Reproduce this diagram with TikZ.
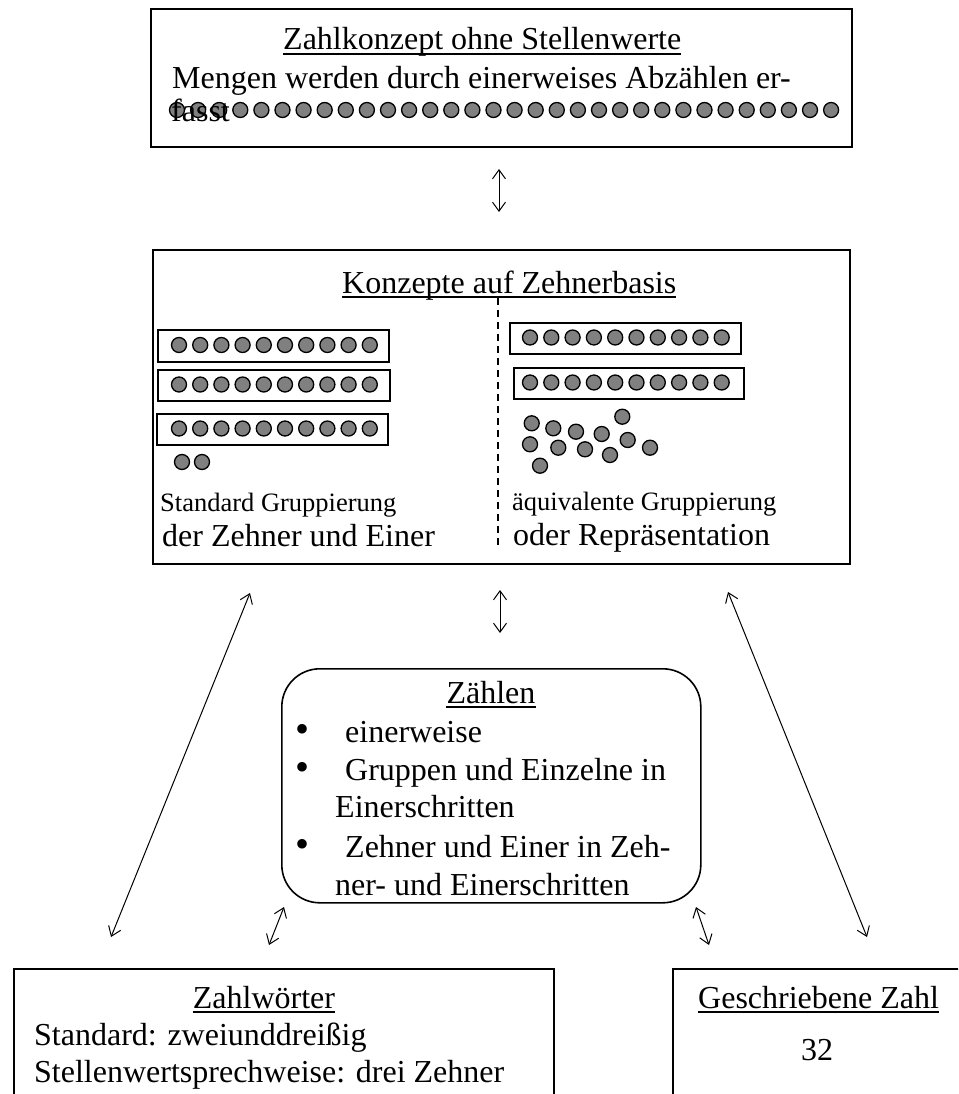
\documentclass[tikz,border=0pt]{standalone}
\usepackage{fontspec}
\setmainfont{Liberation Serif}
\usetikzlibrary{arrows.meta}
\definecolor{beadgray}{RGB}{128,128,128}
\begin{document}
\begin{tikzpicture}[x=1pt,y=-1pt,
  txt/.style={anchor=base west, inner sep=0pt, font=\fontsize{32}{38}\selectfont},
  ctxt/.style={anchor=base, inner sep=0pt, font=\fontsize{32}{38}\selectfont},
  smalltxt/.style={anchor=base west, inner sep=0pt, font=\fontsize{26.5}{30}\selectfont},
  bullet/.style={anchor=center, inner sep=0pt, font=\fontsize{40}{40}\selectfont},
  box/.style={draw, line width=1.6pt, anchor=north west, inner sep=0pt},
  roundbox/.style={box, rounded corners=38pt},
  bead/.style={circle, draw, fill=beadgray, line width=1.3pt, minimum size=15pt, inner sep=0pt},
  tenbox/.style={draw, line width=1.5pt, fill=white, anchor=north west, inner sep=0pt},
  link/.style={line width=1pt, {Straight Barb[length=9pt,width=13pt]}-{Straight Barb[length=9pt,width=13pt]}},
  uline/.style={line width=1.5pt},
  divider/.style={line width=1.2pt, dash pattern=on 7pt off 5pt}]
\clip (0,0) rectangle (958,1094);
\fill[white] (0,0) rectangle (958,1094);

% ---------- top box ----------
\node[box, minimum width=701pt, minimum height=138pt] (topbox) at (150,8) {};
\node[txt] (toptitle) at (283,50) {Zahlkonzept ohne Stellenwerte};
\draw[uline] ([yshift=-4pt]toptitle.base west) -- ([yshift=-4pt]toptitle.base east);
\node[txt] (topline) at (172,89) {Mengen werden durch einerweises Abzählen er-};
\foreach \i in {0,...,31} \node[bead] (tb\i) at ({177+21.1*\i},110) {};
\node[txt] (fasst) at (171,122) {fasst};

% ---------- middle box ----------
\node[box, minimum width=697pt, minimum height=314pt] (midbox) at (152,249) {};
\node[txt] (midtitle) at (342,293) {Konzepte auf Zehnerbasis};
\draw[uline] ([yshift=-4pt]midtitle.base west) -- ([yshift=-4pt]midtitle.base east);
\coordinate (divtop) at (498,298);
\coordinate (divbot) at (498,548);
\draw[divider] (divtop) -- (divbot);

% left: standard grouping
\node[tenbox, minimum width=231pt, minimum height=32pt] (L1) at (157,329) {};
\node[tenbox, minimum width=232pt, minimum height=31pt] (L2) at (157,369) {};
\node[tenbox, minimum width=231pt, minimum height=31pt] (L3) at (156,413) {};
\foreach \i in {0,...,9} {
  \node[bead] (la\i) at ({179+21.2*\i},345) {};
  \node[bead] (lb\i) at ({179+21.2*\i},384.5) {};
  \node[bead] (lc\i) at ({179+21.2*\i},428.5) {};
}
\node[bead] (ld0) at (182,462) {};
\node[bead] (ld1) at (202,462) {};
\node[smalltxt] (stdA) at (160,511) {Standard Gruppierung};
\node[txt] (stdB) at (162,546) {der Zehner und Einer};

% right: equivalent grouping
\node[tenbox, minimum width=231pt, minimum height=31pt] (R1) at (509,322) {};
\node[tenbox, minimum width=230pt, minimum height=31pt] (R2) at (513,367) {};
\foreach \i in {0,...,9} {
  \node[bead] (ra\i) at ({530+21.3*\i},337.5) {};
  \node[bead] (rb\i) at ({530+21.3*\i},382.5) {};
}
\foreach \x/\y [count=\k] in {531.7/423.3, 553.3/428.3, 576/431.7, 601.7/434, 622.3/416.7,
  530/444.3, 558.3/447.7, 585/449.3, 610/455, 627.7/440, 650/447.7, 540/465.7}
  \node[bead] (rs\k) at (\x,\y) {};
\node[smalltxt] (eqA) at (512,510) {äquivalente Gruppierung};
\node[txt] (eqB) at (513,545) {oder Repräsentation};

% ---------- counting box ----------
\node[roundbox, minimum width=419pt, minimum height=234pt] (countbox) at (281,668) {};
\node[ctxt] (counttitle) at (491,703) {Zählen};
\draw[uline] ([yshift=-4pt]counttitle.base west) -- ([yshift=-4pt]counttitle.base east);
\node[bullet] (b1) at (302,733) {•};
\node[bullet] (b2) at (302,771) {•};
\node[bullet] (b3) at (302,848) {•};
\node[txt] (c1) at (345,742) {einerweise};
\node[txt] (c2) at (345,780) {Gruppen und Einzelne in};
\node[txt] (c2b) at (335,817) {Einerschritten};
\node[txt] (c3) at (345,857) {Zehner und Einer in Zeh-};
\node[txt] (c3b) at (335,895) {ner- und Einerschritten};

% ---------- bottom boxes ----------
\node[box, minimum width=540pt, minimum height=150pt] (wordbox) at (13,968) {};
\node[ctxt] (wordtitle) at (264,1008) {Zahlwörter};
\draw[uline] ([yshift=-4pt]wordtitle.base west) -- ([yshift=-4pt]wordtitle.base east);
\node[txt] (w1) at (34,1045) {Standard: zweiunddreißig};
\node[txt] (w2) at (34,1082) {Stellenwertsprechweise: drei Zehner};

\node[box, minimum width=310pt, minimum height=150pt] (numbox) at (672,968) {};
\node[txt] (numtitle) at (698,1008) {Geschriebene Zahl};
\draw[uline] ([yshift=-4pt]numtitle.base west) -- ([yshift=-4pt]numtitle.base east);
\node[ctxt] (num) at (817,1060) {32};

% ---------- arrows ----------
\coordinate (a1s) at (499,169); \coordinate (a1e) at (499,212);
\coordinate (a2s) at (500,590); \coordinate (a2e) at (500,633);
\coordinate (a3s) at (250,593); \coordinate (a3e) at (111,937);
\coordinate (a4s) at (728,592); \coordinate (a4e) at (867,937);
\coordinate (a5s) at (284,907); \coordinate (a5e) at (269,945);
\coordinate (a6s) at (696,907); \coordinate (a6e) at (709,945);
\foreach \n in {1,...,6} \draw[link] (a\n s) -- (a\n e);
\end{tikzpicture}
\end{document}
